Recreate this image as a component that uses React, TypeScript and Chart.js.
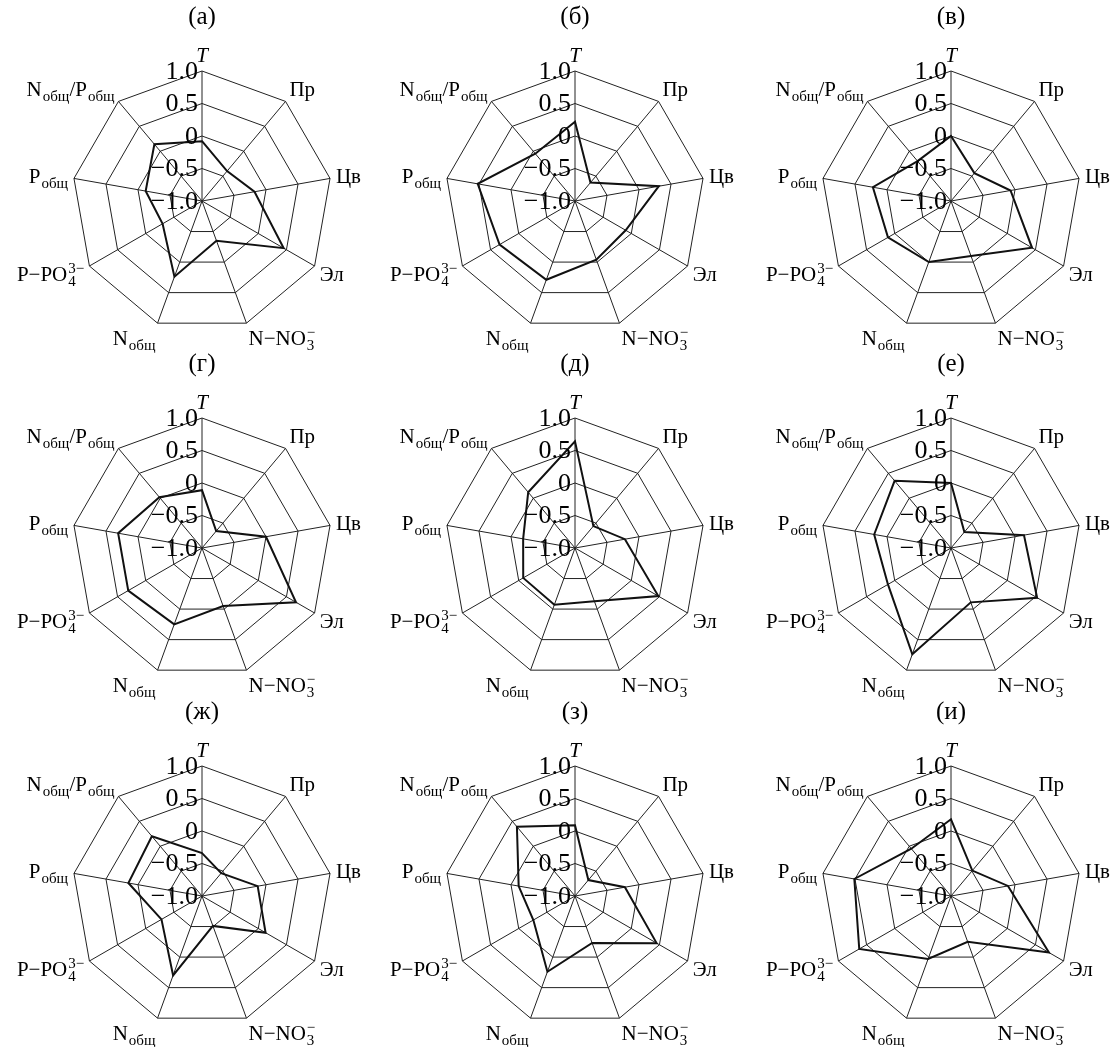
import React, { useEffect, useRef } from 'react';
import { Chart, registerables } from 'chart.js';

Chart.register(...registerables);

// Axis categories (markup: _{sub}, ^{sup})
const categories = ['T', 'Пр', 'Цв', 'Эл', 'N−NO_{3}^{−}', 'N_{общ}', 'P−PO_{4}^{3−}', 'P_{общ}', 'N_{общ}/P_{общ}'];
const italicCategories = ['T'];

const tickValues = [1, 0.5, 0, -0.5, -1];
const tickLabels = ['1.0', '0.5', '0', '−0.5', '−1.0'];

const panelTitles = ['(а)', '(б)', '(в)', '(г)', '(д)', '(е)', '(ж)', '(з)', '(и)'];

// Series values, order: T, Пр, Цв, Эл, N-NO3, Nобщ, P-PO4, Pобщ, Nобщ/Pобщ
const seriesA = [-0.08, -0.4, -0.18, 0.45, -0.35, 0.24, -0.3, -0.12, 0.14];
const seriesB = [0.22, -0.63, 0.31, -0.1, -0.04, 0.29, 0.34, 0.52, -0.05];
const seriesV = [0.0, -0.44, -0.07, 0.44, -0.1, 0.0, 0.12, 0.22, -0.2];
const seriesG = [-0.11, -0.66, 0.0, 0.67, -0.05, 0.25, 0.31, 0.31, 0.02];
const seriesD = [0.64, -0.56, -0.22, 0.48, -0.13, -0.07, -0.08, -0.19, 0.12];
const seriesE = [0.0, -0.68, 0.14, 0.53, -0.11, 0.74, 0.12, 0.2, 0.35];
const seriesZh = [-0.34, -0.54, -0.13, 0.13, -0.51, 0.3, -0.28, 0.15, 0.2];
const seriesZ = [0.09, -0.68, -0.22, 0.45, -0.23, 0.24, -0.26, -0.12, 0.39];
const seriesI = [0.18, -0.49, -0.11, 0.74, -0.25, 0.03, 0.63, 0.51, -0.05];

const allSeries = [seriesA, seriesB, seriesV, seriesG, seriesD, seriesE, seriesZh, seriesZ, seriesI];

const colCenters = [202, 575, 951];
const rowCenters = [201, 548, 896];

const FONT = '"Liberation Serif", "DejaVu Serif", serif';
const MAIN = 21;
const SUB = 15;

type Seg = { text: string; kind: 'n' | 'sub' | 'sup' };

function parseLabel(s: string): Seg[] {
  const out: Seg[] = [];
  const re = /([_^])\{([^}]*)\}/g;
  let last = 0;
  let m: RegExpExecArray | null;
  while ((m = re.exec(s))) {
    if (m.index > last) out.push({ text: s.slice(last, m.index), kind: 'n' });
    out.push({ text: m[2], kind: m[1] === '_' ? 'sub' : 'sup' });
    last = re.lastIndex;
  }
  if (last < s.length) out.push({ text: s.slice(last), kind: 'n' });
  return out;
}

function drawRich(ctx: CanvasRenderingContext2D, segs: Seg[], x: number, baseline: number, draw: boolean, italic: boolean): number {
  let cx = x;
  let i = 0;
  while (i < segs.length) {
    const s = segs[i];
    if (s.kind === 'n') {
      ctx.font = `${italic ? 'italic ' : ''}${MAIN}px ${FONT}`;
      if (draw) ctx.fillText(s.text, cx, baseline);
      cx += ctx.measureText(s.text).width;
      i++;
    } else {
      ctx.font = `${SUB}px ${FONT}`;
      let w = 0;
      let j = i;
      while (j < segs.length && segs[j].kind !== 'n' && j < i + 2) {
        const t = segs[j];
        const dy = t.kind === 'sub' ? 5 : -8;
        if (draw) ctx.fillText(t.text, cx + 1, baseline + dy);
        w = Math.max(w, ctx.measureText(t.text).width);
        j++;
      }
      cx += w + 1;
      i = j;
    }
  }
  return cx - x;
}

function makeLabelPlugin(title: string) {
  return {
    id: 'richLabels',
    afterDraw(chart: any) {
      const scale = chart.scales.r;
      const ctx: CanvasRenderingContext2D = chart.ctx;
      const cx = scale.xCenter;
      const cy = scale.yCenter;
      const R = scale.drawingArea;
      ctx.save();
      ctx.fillStyle = '#000';

      // panel title
      ctx.font = `25px ${FONT}`;
      ctx.textAlign = 'center';
      ctx.textBaseline = 'middle';
      ctx.fillText(title, cx, cy - 184);

      // tick labels
      ctx.font = `26px ${FONT}`;
      ctx.textAlign = 'right';
      ctx.textBaseline = 'middle';
      tickValues.forEach((v, k) => {
        const d = scale.getDistanceFromCenterForValue(v);
        ctx.fillText(tickLabels[k], cx - 4, cy - d + 1);
      });

      // point labels
      ctx.textAlign = 'left';
      ctx.textBaseline = 'alphabetic';
      const n = categories.length;
      categories.forEach((lab, i) => {
        const italic = italicCategories.includes(lab);
        const ang = (i * 360) / n;
        const p = scale.getPointPosition(i, R + 6);
        const segs = parseLabel(lab);
        const w = drawRich(ctx, segs, 0, 0, false, italic);
        let x: number;
        if (ang === 0 || ang === 180) x = p.x - w / 2;
        else if (ang < 180) x = p.x;
        else x = p.x - w;
        const h = 20;
        const yc = p.y - (Math.cos((ang * Math.PI) / 180) * h) / 2;
        drawRich(ctx, segs, x, yc + 7, true, italic);
      });
      ctx.restore();
    },
  };
}

const CW = 400;
const CH = 370;
const CXo = 200;
const CYo = 205;
const RAD = 130;

function Panel({ title, values, cx, cy }: { title: string; values: number[]; cx: number; cy: number }) {
  const ref = useRef<HTMLCanvasElement | null>(null);
  useEffect(() => {
    if (!ref.current) return;
    const chart = new Chart(ref.current, {
      type: 'radar',
      data: {
        labels: categories,
        datasets: [
          {
            data: values,
            borderColor: '#111',
            borderWidth: 2,
            pointRadius: 0,
            pointHoverRadius: 0,
            fill: false,
            backgroundColor: 'rgba(0,0,0,0)',
            tension: 0,
          },
        ],
      },
      options: {
        responsive: false,
        animation: false,
        devicePixelRatio: 1,
        events: [],
        layout: {
          padding: { left: CXo - RAD, right: CW - CXo - RAD, top: CYo - RAD, bottom: CH - CYo - RAD },
        },
        plugins: { legend: { display: false }, tooltip: { enabled: false } },
        scales: {
          r: {
            min: -1,
            max: 1,
            beginAtZero: false,
            ticks: { display: false, stepSize: 0.5 },
            grid: { color: '#222', lineWidth: 1 },
            angleLines: { color: '#222', lineWidth: 1 },
            pointLabels: { display: false },
          },
        },
      },
      plugins: [makeLabelPlugin(title)],
    } as any);
    return () => chart.destroy();
  }, [title, values]);
  return (
    <canvas
      ref={ref}
      width={CW}
      height={CH}
      style={{ position: 'absolute', left: cx - CXo, top: cy - CYo, width: CW, height: CH }}
    />
  );
}

export default function App() {
  return (
    <div style={{ position: 'absolute', left: 0, top: 0, width: 1116, height: 1047, background: '#fff', overflow: 'hidden' }}>
      {allSeries.map((vals, k) => (
        <Panel
          key={k}
          title={panelTitles[k]}
          values={vals}
          cx={colCenters[k % 3]}
          cy={rowCenters[Math.floor(k / 3)]}
        />
      ))}
    </div>
  );
}
